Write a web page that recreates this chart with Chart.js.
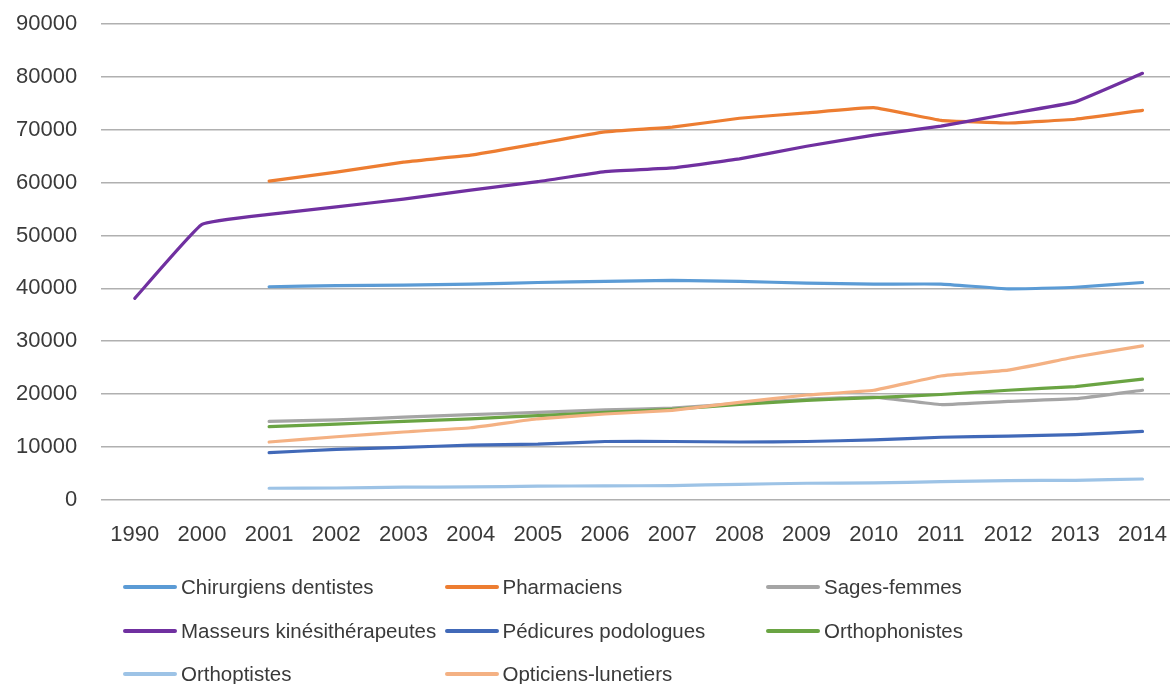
<!DOCTYPE html>
<html>
<head>
<meta charset="utf-8">
<script src="https://cdn.jsdelivr.net/npm/chart.js@4.4.1/dist/chart.umd.min.js"></script>
<style>
  html, body { margin: 0; padding: 0; background: #ffffff; overflow: hidden; width: 1170px; height: 684px; position: relative; }
  #wrap { position: absolute; left: -24px; top: -13px; width: 1213px; height: 598px; }
  #legend { position: absolute; left: 0; top: 0; width: 1170px; height: 684px; pointer-events: none; }
  .item { position: absolute; height: 30px; display: flex; align-items: center; font-family: "Liberation Sans", Arial, sans-serif; font-size: 20.5px; color: #3a3a3a; white-space: nowrap; }
  .swatch { display: inline-block; width: 54px; height: 4px; margin-right: 4px; border-radius: 2px; }
</style>
</head>
<body>
<div id="wrap"><canvas id="c"></canvas></div>
<div id="legend"></div>
<script>
const years = ['1990','2000','2001','2002','2003','2004','2005','2006','2007','2008','2009','2010','2011','2012','2013','2014'];
const yTicks = [0,10000,20000,30000,40000,50000,60000,70000,80000,90000];

const chirurgiens    = [null,null,40300,40500,40600,40800,41100,41300,41500,41300,41000,40800,40800,39900,40200,41100];
const pharmaciens    = [null,null,60300,62000,63900,65200,67400,69600,70500,72200,73200,74200,71800,71300,72000,73700];
const sagesFemmes    = [null,null,14800,15100,15600,16100,16500,17000,17300,18200,19000,19400,18000,18600,19100,20700];
const masseurs       = [38100,52100,54000,55400,56900,58600,60200,62100,62800,64500,66900,69000,70700,73000,75300,80700];
const pedicures      = [null,null,8900,9500,9900,10300,10500,11000,11000,10900,11000,11300,11800,12000,12300,12900];
const orthophonistes = [null,null,13800,14300,14800,15300,15900,16500,17100,18000,18800,19300,19900,20700,21400,22800];
const orthoptistes   = [null,null,2150,2200,2350,2400,2550,2600,2650,2900,3100,3150,3400,3600,3650,3900];
const opticiens      = [null,null,10900,11900,12800,13600,15300,16200,16900,18400,19800,20700,23400,24500,27000,29100];

const seriesNames = ['Chirurgiens dentistes','Pharmaciens','Sages-femmes','Masseurs kinésithérapeutes','Pédicures podologues','Orthophonistes','Orthoptistes','Opticiens-lunetiers'];
const seriesData  = [chirurgiens, pharmaciens, sagesFemmes, masseurs, pedicures, orthophonistes, orthoptistes, opticiens];
const seriesColors = ['#5B9BD5','#ED7D31','#A5A5A5','#7030A0','#4169B8','#6AA443','#9DC3E6','#F4B183'];

const datasets = seriesNames.map((name, i) => ({
  label: name,
  data: seriesData[i],
  borderColor: seriesColors[i],
  backgroundColor: seriesColors[i],
  borderWidth: 3.2,
  pointRadius: 0,
  pointHoverRadius: 0,
  tension: 0.1,
  spanGaps: false,
  fill: false,
  borderCapStyle: 'round',
  borderJoinStyle: 'round',
  order: seriesNames.length - i
}));

const tickFont = { family: '"Liberation Sans", Arial, sans-serif', size: 22 };

new Chart(document.getElementById('c'), {
  type: 'line',
  data: { labels: years, datasets: datasets },
  options: {
    responsive: true,
    maintainAspectRatio: false,
    animation: false,
    layout: { padding: { left: 16, top: 24, right: 1, bottom: 15 } },
    plugins: { legend: { display: false }, tooltip: { enabled: false } },
    scales: {
      x: {
        offset: true,
        grid: { display: false, drawTicks: false },
        border: { display: false },
        ticks: { font: tickFont, color: '#3a3a3a', padding: 22, maxRotation: 0, autoSkip: false }
      },
      y: {
        min: 0,
        max: 90000,
        afterBuildTicks: (axis) => { axis.ticks = yTicks.map(v => ({ value: v })); },
        grid: { color: '#B0B0B0', lineWidth: 1.5, drawTicks: false },
        border: { display: false },
        ticks: { font: tickFont, color: '#3a3a3a', padding: 24, callback: (v) => String(v) }
      }
    }
  }
});

const legend = document.getElementById('legend');
seriesNames.forEach((name, i) => {
  const col = i % 3, row = Math.floor(i / 3);
  const item = document.createElement('div');
  item.className = 'item';
  item.style.left = (123 + col * 321.5) + 'px';
  item.style.top = (587 + row * 43.5 - 15) + 'px';
  const sw = document.createElement('span');
  sw.className = 'swatch';
  sw.style.background = seriesColors[i];
  const tx = document.createElement('span');
  tx.textContent = name;
  item.appendChild(sw);
  item.appendChild(tx);
  legend.appendChild(item);
});
</script>
</body>
</html>
